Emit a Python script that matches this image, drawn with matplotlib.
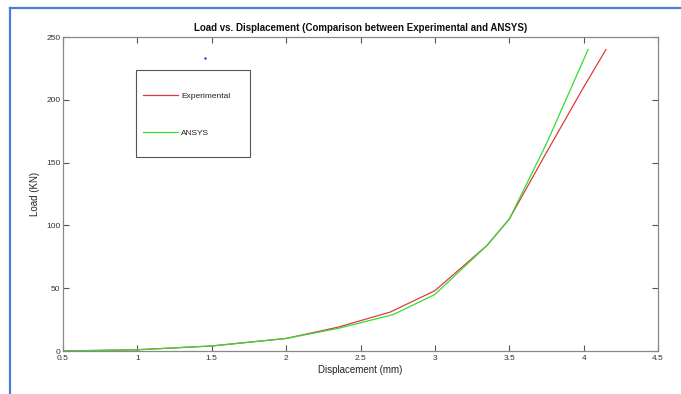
import matplotlib
matplotlib.use('Agg')
import matplotlib.pyplot as plt
from matplotlib.lines import Line2D
from matplotlib.patches import Rectangle

plt.rcParams['font.family'] = ['Liberation Sans', 'DejaVu Sans']

# data
exp_disp = [0.5, 1.0, 1.5, 2.0, 2.35, 2.7, 3.0, 3.35, 3.5, 3.75, 4.0, 4.15]
exp_load = [0, 1, 4, 10, 19, 31, 48, 84, 105, 158, 210, 240]
ansys_disp = [0.5, 1.0, 1.5, 2.0, 2.35, 2.72, 3.0, 3.35, 3.5, 3.75, 4.03]
ansys_load = [0, 1, 4, 10, 18, 29, 45, 84, 105, 165, 240]
stray_x = [1.455]
stray_y = [233]

x_ticks = [0.5, 1, 1.5, 2, 2.5, 3, 3.5, 4, 4.5]
x_labels = ['0.5', '1', '1.5', '2', '2.5', '3', '3.5', '4', '4.5']
y_ticks = [0, 50, 100, 150, 200, 250]

fig = plt.figure(figsize=(6.81, 3.94), dpi=100)
ax = fig.add_axes([63 / 681, 1 - 351 / 394, 595 / 681, 314 / 394])

ax.plot(exp_disp, exp_load, color='#e0393e', lw=0.9, label='Experimental')
ax.plot(ansys_disp, ansys_load, color='#33dd33', lw=0.9, label='ANSYS')
ax.plot(stray_x, stray_y, ls='none', marker='.', ms=1.5, color='#2030e0')

ax.set_xlim(0.5, 4.5)
ax.set_ylim(0, 250)
ax.set_xticks(x_ticks)
ax.set_xticklabels(x_labels)
ax.set_yticks(y_ticks)
ax.tick_params(direction='in', length=4, width=0.8, color='#555555',
               labelsize=6, labelcolor='#333333', top=True, right=True, pad=2)
ax.tick_params(axis='x', pad=3)
for s in ax.spines.values():
    s.set_color('#888888')
    s.set_linewidth(0.9)

ax.set_xlabel('Displacement (mm)', fontsize=7, color='#222222', labelpad=2)
ax.set_ylabel('Load (KN)', fontsize=7, color='#222222', labelpad=4)
ax.set_title('Load vs. Displacement (Comparison between Experimental and ANSYS)',
             fontsize=7, fontweight='bold', color='#111111', pad=4)

# legend box drawn separately so the padding matches the MATLAB one
ax.add_patch(Rectangle((73 / 595, 194 / 314), 114 / 595, 87 / 314,
                       transform=ax.transAxes, facecolor='white',
                       edgecolor='#555555', lw=0.8, zorder=4))
leg = ax.legend(loc='upper left', bbox_to_anchor=(80 / 595, 1 - 55 / 314),
                borderaxespad=0, fontsize=6, frameon=False,
                borderpad=0, labelspacing=3.5, handlelength=4.2,
                handletextpad=0.35)
leg.set_zorder(5)
for t in leg.get_texts():
    t.set_color('#222222')

# blue screenshot frame
fig.add_artist(Line2D([10 / 681, 10 / 681], [0, 1 - 8 / 394],
                      transform=fig.transFigure, color='#4a7fd8', lw=1.6))
fig.add_artist(Line2D([10 / 681, 1], [1 - 8 / 394, 1 - 8 / 394],
                      transform=fig.transFigure, color='#4a7fd8', lw=1.6))

fig.savefig('out.png', dpi=100)
